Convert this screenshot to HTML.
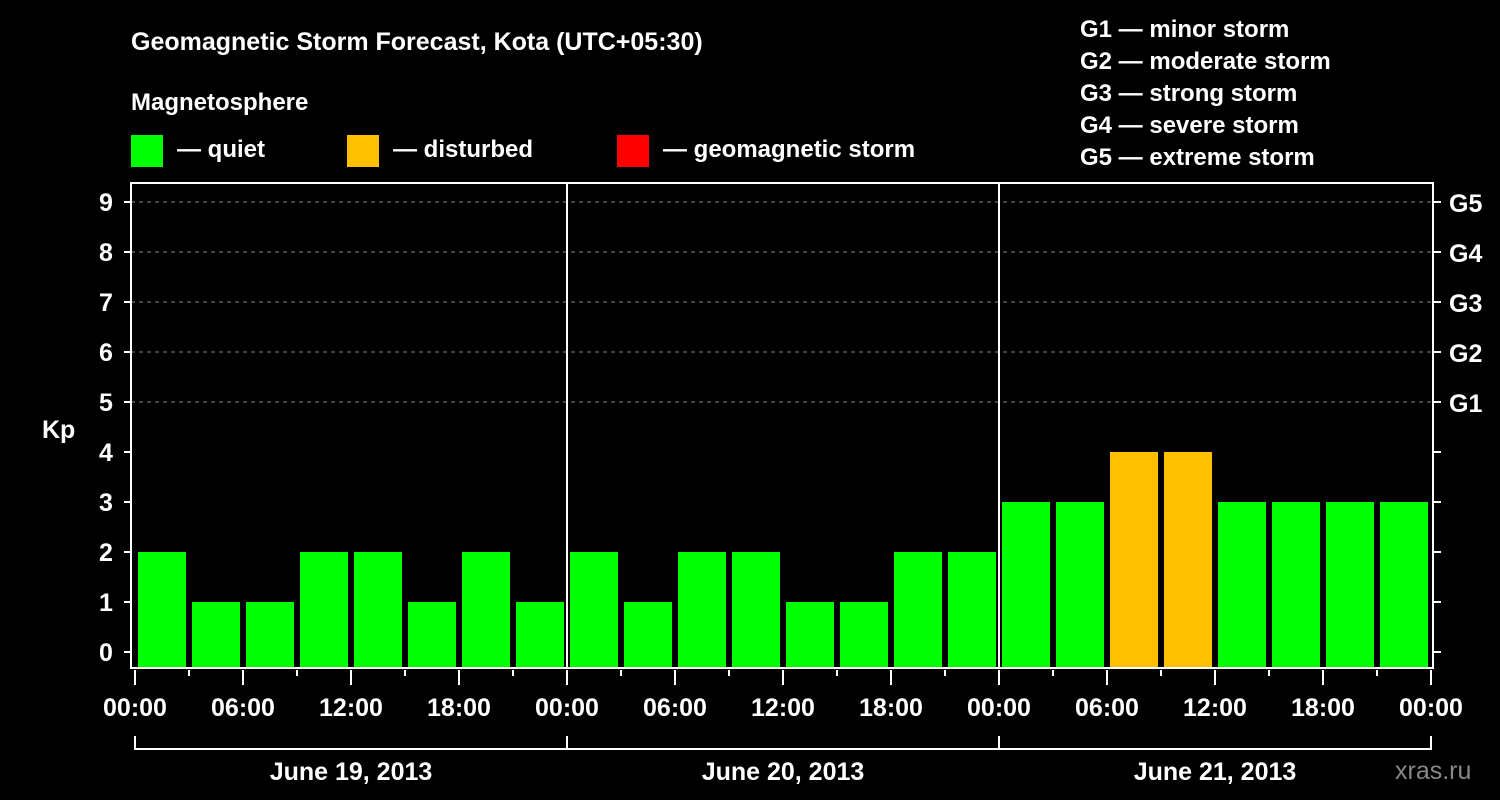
<!DOCTYPE html>
<html><head><meta charset="utf-8"><style>
html,body{margin:0;padding:0;background:#000;}
svg{display:block;font-family:"Liberation Sans",Arial,sans-serif;font-weight:bold;}
</style></head><body>
<svg id="chart" width="1500" height="800" viewBox="0 0 1500 800">
<rect x="0" y="0" width="1500" height="800" fill="#000"/>
<text x="131" y="50" fill="#fff" font-size="25">Geomagnetic Storm Forecast, Kota (UTC+05:30)</text>
<text x="131" y="110" fill="#fff" font-size="24">Magnetosphere</text>
<g><rect x="131" y="135" width="32" height="32" fill="#00ff00"/><text x="177" y="157" fill="#fff" font-size="24">— quiet</text></g>
<g><rect x="347" y="135" width="32" height="32" fill="#ffc000"/><text x="393" y="157" fill="#fff" font-size="24">— disturbed</text></g>
<g><rect x="617" y="135" width="32" height="32" fill="#ff0000"/><text x="663" y="157" fill="#fff" font-size="24">— geomagnetic storm</text></g>
<g fill="#fff" font-size="24">
<text x="1080" y="37">G1 — minor storm</text>
<text x="1080" y="69">G2 — moderate storm</text>
<text x="1080" y="101">G3 — strong storm</text>
<text x="1080" y="133">G4 — severe storm</text>
<text x="1080" y="165">G5 — extreme storm</text>
</g>
<text x="42" y="438" fill="#fff" font-size="25">Kp</text>
<text x="1395" y="779" fill="#888" font-size="25" font-weight="normal">xras.ru</text>
<g id="grid"></g>
<g id="bars"></g>
<g id="axes"></g>
</svg>
<script>
const kpValues=[2,1,1,2,2,1,2,1,2,1,2,2,1,1,2,2,3,3,4,4,3,3,3,3,3];
const yTicks=[0,1,2,3,4,5,6,7,8,9];
const gLabels=["G1","G2","G3","G4","G5"];
const gLevels=[5,6,7,8,9];
const timeLabels=["00:00","06:00","12:00","18:00","00:00","06:00","12:00","18:00","00:00","06:00","12:00","18:00","00:00"];
const dayLabels=["June 19, 2013","June 20, 2013","June 21, 2013"];

const NS="http://www.w3.org/2000/svg";
const L=131,R=1433,T=183,B=668;
const x0=135,pxPerHour=18;
function xS(h){return x0+h*pxPerHour;}
function yS(v){return 652-v*50;}
function mk(tag,attrs,parent){const e=document.createElementNS(NS,tag);for(const k in attrs)e.setAttribute(k,attrs[k]);parent.appendChild(e);return e;}
const grid=document.getElementById('grid'),bars=document.getElementById('bars'),axes=document.getElementById('axes');

gLevels.forEach((lv,i)=>{
  const ln=mk('line',{x1:L,x2:R,y1:yS(lv),y2:yS(lv),stroke:'#888','stroke-dasharray':'4,4','stroke-width':1},grid);
  
  
  const t=mk('text',{x:1449,y:yS(lv)+10,fill:'#fff','font-size':25},axes);
  t.textContent=gLabels[i];
  
  
});

kpValues.forEach((v,i)=>{
  const c=xS(1.5+3*i);
  let a=c-24,b=c+24;
  a=Math.max(a,L+5);b=Math.min(b,R-5);
  const col=v>=5?'#ff0000':(v>=4?'#ffc000':'#00ff00');
  const r=mk('rect',{x:a,y:yS(v),width:b-a,height:B-yS(v),fill:col},bars);
  
  
});

// day separators
[24,48].forEach(h=>{
  const ln=mk('line',{x1:xS(h),x2:xS(h),y1:T,y2:B,stroke:'#fff','stroke-width':2},axes);
  
  
});
// frame
const fr=mk('rect',{x:L,y:T,width:R-L,height:B-T,fill:'none',stroke:'#fff','stroke-width':2},axes);



yTicks.forEach(v=>{
  mk('line',{x1:L-7,x2:L,y1:yS(v),y2:yS(v),stroke:'#fff','stroke-width':2},axes);
  mk('line',{x1:R,x2:R+8,y1:yS(v),y2:yS(v),stroke:'#fff','stroke-width':2},axes);
  const t=mk('text',{x:106,y:yS(v)+9,fill:'#fff','font-size':25,'text-anchor':'middle'},axes);
  t.textContent=v;
  
  
});

for(let h=0;h<=72;h+=3){
  const major=h%6===0;
  mk('line',{x1:xS(h),x2:xS(h),y1:B+2,y2:major?B+17:B+8,stroke:'#fff','stroke-width':2},axes);
}
timeLabels.forEach((lab,i)=>{
  const t=mk('text',{x:xS(i*6),y:716,fill:'#fff','font-size':25,'text-anchor':'middle'},axes);
  t.textContent=lab;
  
  
});
mk('line',{x1:xS(0),x2:xS(72),y1:749,y2:749,stroke:'#fff','stroke-width':2},axes);
[0,24,48,72].forEach(h=>mk('line',{x1:xS(h),x2:xS(h),y1:736,y2:750,stroke:'#fff','stroke-width':2},axes));
dayLabels.forEach((d,i)=>{
  const t=mk('text',{x:xS(24*i+12),y:780,fill:'#fff','font-size':25,'text-anchor':'middle'},axes);
  t.textContent=d;
  
  
});
</script>
</body></html>
